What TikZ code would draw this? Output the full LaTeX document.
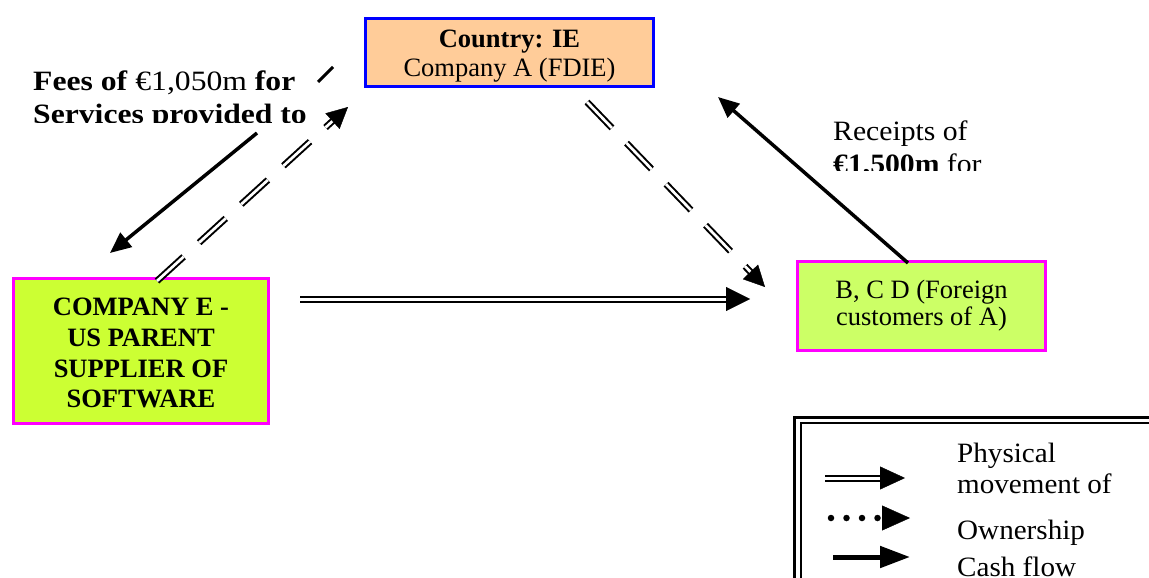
\documentclass[tikz,border=0pt]{standalone}
\usepackage{graphicx}
\usepackage{fontspec}
\setmainfont{Liberation Serif}
\usetikzlibrary{arrows.meta,calc}
\definecolor{peach}{HTML}{FFCC99}
\definecolor{lime}{HTML}{CCFF33}
\definecolor{limelight}{HTML}{CCFF66}
\definecolor{frameblue}{HTML}{0000FF}
\definecolor{framemag}{HTML}{FF00FF}
% wide-set text used for the flow labels and the key
\newcommand{\widetext}[2]{\scalebox{#1}[1]{#2}}
\begin{document}
\begin{tikzpicture}[x=1pt,y=-1pt,
  box/.style={draw, rectangle, inner sep=0pt, align=center},
  boxtext/.style={anchor=base, inner sep=0pt, font=\fontsize{26.5}{30}\selectfont},
  labeltext/.style={anchor=base west, inner sep=0pt, font=\fontsize{28}{32}\selectfont},
  cash/.style={line width=3.5pt, -{Triangle[length=21pt,width=18pt]}},
  goods/.style={draw=black, double=white, double distance=3pt, line width=2pt},
  owner/.style={draw=black, double=white, double distance=2.7pt, line width=2pt,
                dash pattern=on 36pt off 21pt},
  headonly/.style={line width=0.4pt}
]
\clip (0,0) rectangle (1149,578);
\fill[white] (0,0) rectangle (1149,578);

% ---- company boxes
\node[box, draw=frameblue, fill=peach, line width=3pt,
      minimum width=288pt, minimum height=68pt] (A) at (509.5,52.5) {};
\node[boxtext] (Atop) at (509.5,48) {\textbf{Country: IE}};
\node[boxtext] (Abot) at (509.5,77) {Company A (FDIE)};

\node[box, draw=framemag, fill=lime, line width=3.5pt,
      minimum width=255pt, minimum height=145pt] (E) at (141,351) {};
\node[boxtext] (E1) at (141,315) {\textbf{COMPANY E -}};
\node[boxtext] (E2) at (141,346) {\textbf{US PARENT}};
\node[boxtext] (E3) at (141,377) {\textbf{SUPPLIER OF}};
\node[boxtext] (E4) at (141,407) {\textbf{SOFTWARE}};

\node[box, draw=framemag, fill=limelight, line width=3.5pt,
      minimum width=248pt, minimum height=89pt] (C) at (921.5,306) {};
\node[boxtext] (C1) at (921.5,298) {B, C D (Foreign};
\node[boxtext] (C2) at (921.5,325) {customers of A)};

% ---- flow labels, cut off by their text frames
\begin{scope}
  \clip (20,55) rectangle (312,122.5);
  \node[labeltext] (fees1) at (33,90)
    {\widetext{1.13}{\textbf{Fees of} €1,050m \textbf{for}}};
  \node[labeltext] (fees2) at (33,124)
    {\widetext{1.13}{\textbf{Services provided to}}};
\end{scope}
\draw[line width=3pt] (318,82) -- (333,67);

\begin{scope}
  \clip (820,100) rectangle (1000,170.5);
  \node[labeltext] (rec1) at (833,140) {\widetext{1.06}{Receipts of}};
  \node[labeltext] (rec2) at (833,173) {\widetext{1.06}{\textbf{€1,500m} for}};
\end{scope}

% ---- connector end points
\coordinate (feesS) at (257,133);
\coordinate (feesT) at (110,253);
\coordinate (recS) at (908,263);
\coordinate (recT) at (718,97);
\coordinate (ownES) at (157,281);
\coordinate (ownET) at (348,107);
\coordinate (ownAS) at (587,102);
\coordinate (ownAT) at (765,287);
\coordinate (goS) at (300,299);
\coordinate (goT) at (750,299);

% ---- cash flows
\draw[cash] (feesS) -- (feesT);
\draw[cash] (recS) -- (recT);

% ---- ownership links (double dashed)
\draw[owner, shorten >=17pt] (ownES) -- (ownET);
\draw[headonly, -{Triangle[length=21pt,width=21pt]}] ($(ownET)!12pt!(ownES)$) -- (ownET);
\draw[owner, shorten >=17pt] (ownAS) -- (ownAT);
\draw[headonly, -{Triangle[length=21pt,width=21pt]}] ($(ownAT)!12pt!(ownAS)$) -- (ownAT);

% ---- physical movement
\draw[goods, shorten >=22pt] (goS) -- (goT);
\draw[headonly, -{Triangle[length=24pt,width=24pt]}] ($(goT)!12pt!(goS)$) -- (goT);

% ---- key
\draw[line width=3pt] (794.5,1200) |- (1300,417.5);
\draw[line width=1.5pt] (801,1200) |- (1300,423);

\coordinate (kg1) at (825,478);
\coordinate (kg2) at (905,478);
\draw[goods, shorten >=23pt] (kg1) -- (kg2);
\draw[headonly, -{Triangle[length=25pt,width=23pt]}] ($(kg2)!12pt!(kg1)$) -- (kg2);

\coordinate (ko1) at (831,518);
\coordinate (ko2) at (910,518);
\draw[line width=6.5pt, line cap=round, dash pattern=on 0pt off 15.5pt] (ko1) -- (878,518);
\draw[headonly, -{Triangle[length=28pt,width=25pt]}] ($(ko2)!12pt!(ko1)$) -- (ko2);

\coordinate (kc1) at (833,557);
\coordinate (kc2) at (910,557);
\draw[line width=5pt, -{Triangle[length=30pt,width=21pt]}] (kc1) -- (kc2);

\node[labeltext] (k1) at (957,462) {\widetext{1.04}{Physical}};
\node[labeltext] (k2) at (957,493) {\widetext{1.04}{movement of}};
\node[labeltext] (k3) at (957,539) {\widetext{1.04}{Ownership}};
\node[labeltext] (k4) at (957,576) {\widetext{1.04}{Cash flow}};
\end{tikzpicture}
\end{document}
